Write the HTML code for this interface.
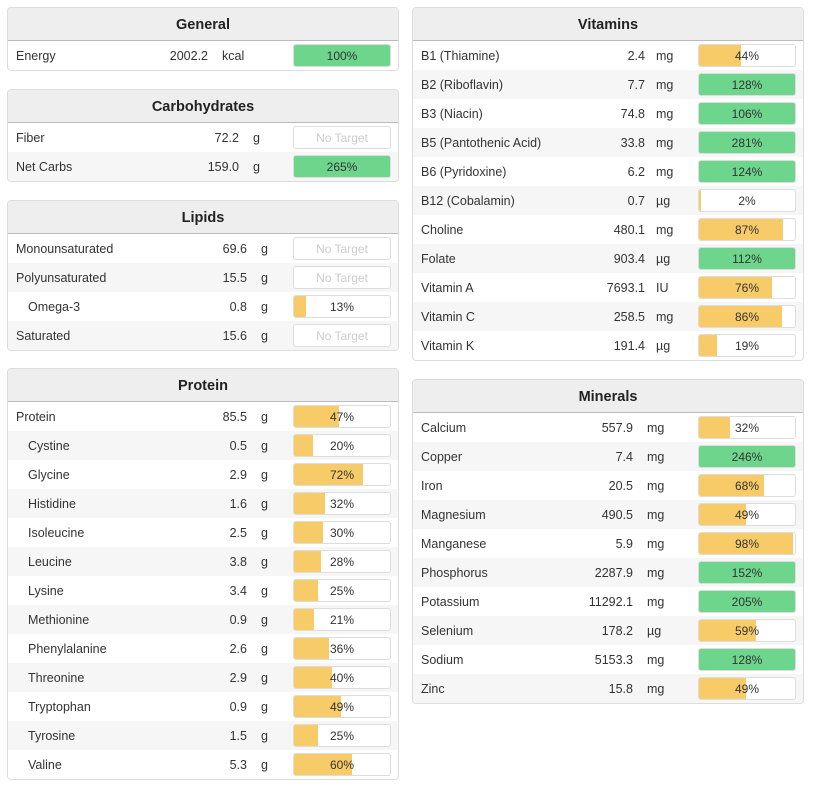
<!DOCTYPE html>
<html><head><meta charset="utf-8"><style>
body{margin:0;background:#fff;font-family:"Liberation Sans",sans-serif;font-size:12.5px;color:#333;width:815px;height:793px;position:relative;overflow:hidden}
.panel{position:absolute;width:390px;border:1px solid #ddd;border-radius:4px;background:#fff;overflow:hidden}
.hd{height:32px;line-height:34px;background:#eee;border-bottom:1px solid #bbb;text-align:center;font-weight:bold;font-size:14.5px;color:#222}
.row{height:29px;position:relative}
.row span{position:absolute;top:8px;white-space:nowrap}
.bar{position:absolute;top:3px;left:285px;width:96px;height:21px;border:1px solid #ddd;border-radius:3px;background:#fff;overflow:hidden}
.fill{position:absolute;left:0;top:0;bottom:0}
.pct{position:absolute;left:0;right:0;top:4px;text-align:center;font-size:12px}
.nt{color:#ccc}
</style></head><body>
<script>
const panels=[
{name:"General",x:7,y:7,vEnd:200,uX:214,names:["Energy"],vals:["2002.2"],units:["kcal"],pcts:[100],ind:[0]},
{name:"Carbohydrates",x:7,y:89,vEnd:231,uX:245,names:["Fiber","Net Carbs"],vals:["72.2","159.0"],units:["g","g"],pcts:[null,265],ind:[0,0]},
{name:"Lipids",x:7,y:200,vEnd:239,uX:253,names:["Monounsaturated","Polyunsaturated","Omega-3","Saturated"],vals:["69.6","15.5","0.8","15.6"],units:["g","g","g","g"],pcts:[null,null,13,null],ind:[0,0,1,0]},
{name:"Protein",x:7,y:368,vEnd:239,uX:253,names:["Protein","Cystine","Glycine","Histidine","Isoleucine","Leucine","Lysine","Methionine","Phenylalanine","Threonine","Tryptophan","Tyrosine","Valine"],vals:["85.5","0.5","2.9","1.6","2.5","3.8","3.4","0.9","2.6","2.9","0.9","1.5","5.3"],units:["g","g","g","g","g","g","g","g","g","g","g","g","g"],pcts:[47,20,72,32,30,28,25,21,36,40,49,25,60],ind:[0,1,1,1,1,1,1,1,1,1,1,1,1]},
{name:"Vitamins",x:412,y:7,vEnd:232,uX:243,names:["B1 (Thiamine)","B2 (Riboflavin)","B3 (Niacin)","B5 (Pantothenic Acid)","B6 (Pyridoxine)","B12 (Cobalamin)","Choline","Folate","Vitamin A","Vitamin C","Vitamin K"],vals:["2.4","7.7","74.8","33.8","6.2","0.7","480.1","903.4","7693.1","258.5","191.4"],units:["mg","mg","mg","mg","mg","µg","mg","µg","IU","mg","µg"],pcts:[44,128,106,281,124,2,87,112,76,86,19],ind:[0,0,0,0,0,0,0,0,0,0,0]},
{name:"Minerals",x:412,y:379,vEnd:220,uX:234,names:["Calcium","Copper","Iron","Magnesium","Manganese","Phosphorus","Potassium","Selenium","Sodium","Zinc"],vals:["557.9","7.4","20.5","490.5","5.9","2287.9","11292.1","178.2","5153.3","15.8"],units:["mg","mg","mg","mg","mg","mg","mg","µg","mg","mg"],pcts:[32,246,68,49,98,152,205,59,128,49],ind:[0,0,0,0,0,0,0,0,0,0]}
];
for(const p of panels){
  const d=document.createElement('div');d.className='panel';
  
  
  d.style.left=p.x+'px';d.style.top=p.y+'px';
  const h=document.createElement('div');h.className='hd';h.textContent=p.name;
  
  
  d.appendChild(h);
  const body=document.createElement('div');
  p.names.forEach((n,i)=>{
    const r=document.createElement('div');r.className='row';
    
    
    r.style.background=(i%2)?'#f6f6f6':'#fff';
    const pc=p.pcts[i];
    let barHtml;
    if(pc===null){barHtml='<div class="pct nt">No Target</div>';}
    else{const w=Math.min(pc,100);const c=pc>=100?'#6dd58c':'#f8cb69';
      barHtml='<div class="fill" style="width:'+w+'%;background:'+c+'"></div><div class="pct">'+pc+'%</div>';}
    r.innerHTML='<span style="left:'+(p.ind[i]?20:8)+'px">'+n+'</span>'+
      '<span style="right:'+(390-p.vEnd)+'px">'+p.vals[i]+'</span>'+
      '<span style="left:'+p.uX+'px">'+p.units[i]+'</span>'+
      '<div class="bar">'+barHtml+'</div>';
    
    
    body.appendChild(r);
  });
  d.appendChild(body);
  document.body.appendChild(d);
}
</script>
</body></html>
